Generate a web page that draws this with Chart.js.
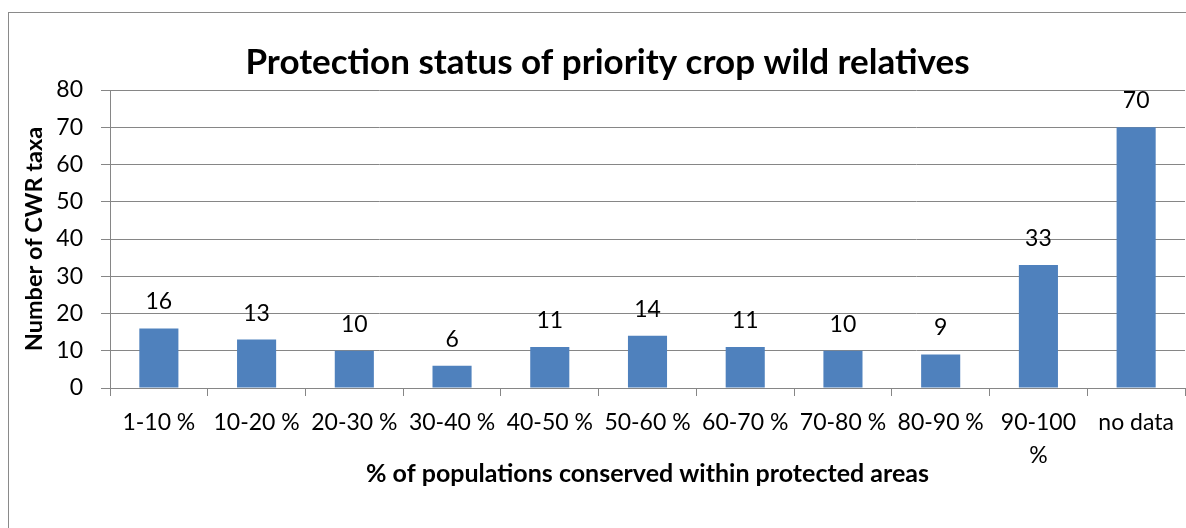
<!DOCTYPE html>
<html>
<head>
<meta charset="utf-8">
<script src="https://cdn.jsdelivr.net/npm/chart.js@4/dist/chart.umd.min.js"></script>
<style>
  html, body { margin: 0; padding: 0; background: #fff; overflow: hidden; }
  #wrap { position: relative; width: 1186px; height: 528px; }
  #frame { position: absolute; left: 8px; top: 12px; width: 1400px; height: 800px; border-left: 1px solid #8a8a8a; border-top: 1px solid #8a8a8a; }
  canvas { position: absolute; left: 0; top: 0; }
</style>
</head>
<body>
<div id="wrap">
  <div id="frame"></div>
  <canvas id="c" width="1186" height="528"></canvas>
</div>
<script>
const TITLE = 'Protection status of priority crop wild relatives';
const X_TITLE = '% of populations conserved within protected areas';
const Y_TITLE = 'Number of CWR taxa';
const categories = ['1-10 %', '10-20 %', '20-30 %', '30-40 %', '40-50 %', '50-60 %', '60-70 %', '70-80 %', '80-90 %', ['90-100', '%'], 'no data'];
const values = [16, 13, 10, 6, 11, 14, 11, 10, 9, 33, 70];
const yTicks = [0, 10, 20, 30, 40, 50, 60, 70, 80];

const FONT = 'Lato';
const GRID = '#868686';

const titlePlugin = {
  id: 'customTitle',
  afterDraw(chart) {
    const ctx = chart.ctx;
    ctx.save();
    ctx.font = 'bold 35px ' + FONT;
    ctx.fillStyle = '#000';
    ctx.textAlign = 'center';
    ctx.textBaseline = 'alphabetic';
    ctx.fillText(TITLE, 607.5, 74);
    ctx.restore();
  }
};

const labelPlugin = {
  id: 'barLabels',
  afterDatasetsDraw(chart) {
    const ctx = chart.ctx;
    const meta = chart.getDatasetMeta(0);
    ctx.save();
    ctx.font = '23px ' + FONT;
    ctx.fillStyle = '#000';
    ctx.textAlign = 'center';
    ctx.textBaseline = 'alphabetic';
    meta.data.forEach((bar, i) => {
      ctx.fillText(String(values[i]), bar.x, bar.y - 19);
    });
    ctx.restore();
  }
};

new Chart(document.getElementById('c'), {
  type: 'bar',
  data: {
    labels: categories,
    datasets: [{
      data: values,
      backgroundColor: '#4F81BD',
      borderWidth: 0,
      barPercentage: 0.4,
      categoryPercentage: 1.0
    }]
  },
  options: {
    responsive: false,
    animation: false,
    devicePixelRatio: 1,
    layout: { padding: { left: 0, right: 1, top: 90, bottom: 0 } },
    plugins: {
      legend: { display: false },
      tooltip: { enabled: false },
      title: { display: false }
    },
    scales: {
      x: {
        offset: true,
        grid: { display: true, drawOnChartArea: false, drawTicks: true, tickLength: 8, color: GRID, offset: true },
        border: { display: true, color: GRID, width: 1 },
        ticks: { color: '#000', font: { family: FONT, size: 23, lineHeight: 1.43 }, padding: 10, maxRotation: 0, autoSkip: false },
        title: { display: true, text: X_TITLE, color: '#000', font: { family: FONT, size: 25, weight: 'bold', lineHeight: 1.2 }, padding: { top: 0, bottom: 39 } },
        afterFit(scale) { scale.height = 528 - 388; }
      },
      y: {
        min: 0, max: 80,
        afterBuildTicks(scale) { scale.ticks = yTicks.map(v => ({ value: v })); },
        grid: { color: GRID, drawTicks: true, tickLength: 9, lineWidth: 1 },
        border: { display: true, color: GRID, width: 1 },
        ticks: { color: '#000', font: { family: FONT, size: 23 }, padding: 18 },
        title: { display: true, text: Y_TITLE, color: '#000', font: { family: FONT, size: 23.5, weight: 'bold', lineHeight: 1.2 }, padding: { top: 20, bottom: 0 } },
        afterFit(scale) { scale.width = 110; }
      }
    }
  },
  plugins: [titlePlugin, labelPlugin]
});
</script>
</body>
</html>
